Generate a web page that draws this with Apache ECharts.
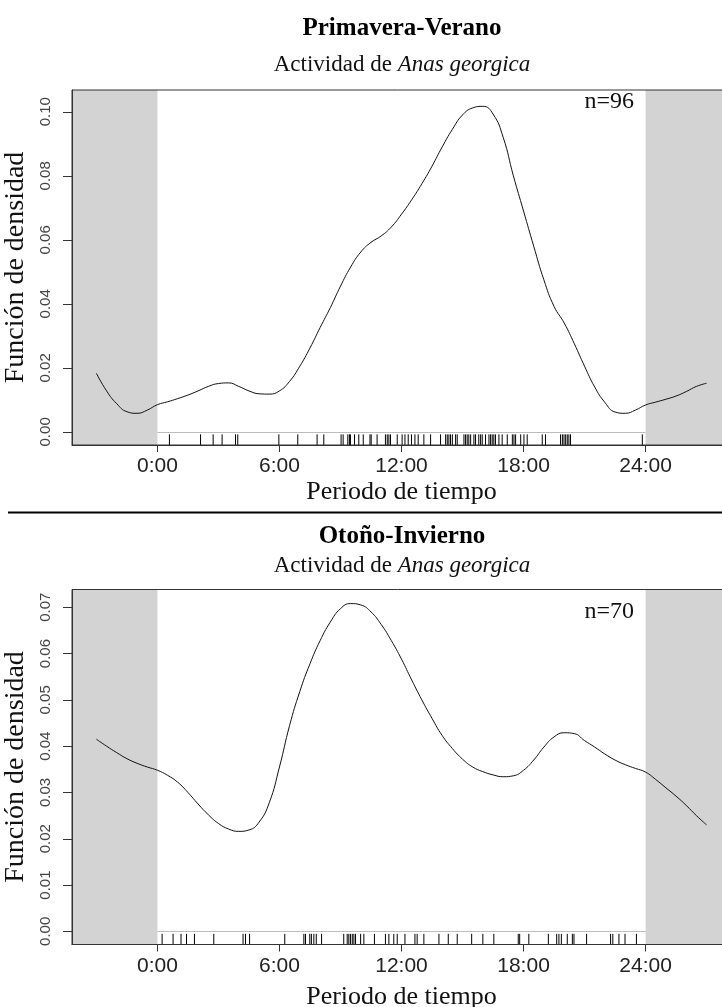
<!DOCTYPE html>
<html>
<head>
<meta charset="utf-8">
<script src="https://cdn.jsdelivr.net/npm/echarts@6/dist/echarts.min.js"></script>
<style>
  html, body { margin: 0; padding: 0; background: #fff; }
  #chart { width: 722px; height: 1007px; }
</style>
</head>
<body>
<div id="chart"></div>
<script>
// horas del eje x (la curva se extiende de -3 a 27 h)
const horas = [-3, -2.5, -2, -1.5, -1, -0.5, 0, 0.5, 1, 1.5, 2, 2.5, 3, 3.5, 4, 4.5, 5, 5.5, 6, 6.5,
  7, 7.5, 8, 8.5, 9, 9.5, 10, 10.5, 11, 11.5, 12, 12.5, 13, 13.5, 14, 14.5, 15, 15.5, 16, 16.5,
  17, 17.5, 18, 18.5, 19, 19.5, 20, 20.5, 21, 21.5, 22, 22.5, 23, 23.5, 24, 24.5, 25, 25.5, 26, 26.5, 27];

// Primavera-Verano
const densPV = [0.0183, 0.0128, 0.0088, 0.0063, 0.0058, 0.0068, 0.0085, 0.0094, 0.0104, 0.0115,
  0.0128, 0.0142, 0.0151, 0.0153, 0.0142, 0.0128, 0.0119, 0.0118, 0.0128, 0.0158,
  0.0205, 0.0262, 0.0326, 0.0388, 0.0455, 0.0515, 0.0562, 0.0592, 0.0612, 0.0640,
  0.0680, 0.0725, 0.0775, 0.0830, 0.0890, 0.0945, 0.0990, 0.1012, 0.1017, 0.0993,
  0.0920, 0.0800, 0.0690, 0.0580, 0.0475, 0.0392, 0.0340, 0.0275, 0.0205, 0.0140,
  0.0092, 0.0062, 0.0058, 0.0068, 0.0084, 0.0093, 0.0102, 0.0112, 0.0126, 0.0142, 0.0152];
const rugPV = [0.59, 2.12, 2.74, 3.18, 3.84, 3.95, 5.97, 6.90, 7.85, 8.18, 9.03, 9.13, 9.36, 9.44,
  9.49, 9.69, 9.90, 10.12, 10.45, 10.51, 10.80, 11.21, 11.30, 11.38, 11.46, 11.79, 12.03, 12.17,
  12.33, 12.49, 12.66, 12.82, 13.10, 13.43, 13.92, 14.17, 14.25, 14.33, 14.41, 14.50, 14.66, 14.74,
  15.07, 15.15, 15.23, 15.31, 15.40, 15.56, 15.64, 15.80, 15.89, 15.97, 16.13, 16.30, 16.38, 16.46,
  16.54, 16.62, 16.79, 16.95, 17.20, 17.45, 17.53, 17.61, 17.86, 18.02, 18.18, 18.92, 19.08, 19.82,
  19.91, 19.99, 20.07, 20.15, 20.23, 20.31, 23.84];
const ticksPV = [0, 0.02, 0.04, 0.06, 0.08, 0.10];

// Otoño-Invierno
const densOI = [0.0415, 0.0400, 0.0386, 0.0373, 0.0363, 0.0355, 0.0348, 0.0337, 0.0322, 0.0300,
  0.0275, 0.0252, 0.0233, 0.0221, 0.0216, 0.0219, 0.0236, 0.0278, 0.0355, 0.0445,
  0.0518, 0.0578, 0.0628, 0.0668, 0.0697, 0.0708, 0.0705, 0.0690, 0.0663, 0.0628,
  0.0588, 0.0543, 0.0500, 0.0460, 0.0423, 0.0395, 0.0372, 0.0355, 0.0345, 0.0338,
  0.0334, 0.0336, 0.0348, 0.0370, 0.0398, 0.0420, 0.0429, 0.0427, 0.0412, 0.0398,
  0.0383, 0.0370, 0.0360, 0.0352, 0.0344, 0.0328, 0.0310, 0.0292, 0.0272, 0.0250, 0.0230];
const rugOI = [0.23, 0.77, 1.16, 1.43, 1.82, 2.77, 4.21, 4.33, 4.53, 6.26, 7.20, 7.28, 7.49, 7.57,
  7.69, 7.81, 8.07, 9.16, 9.33, 9.41, 9.49, 9.58, 9.66, 9.74, 9.99, 10.15, 10.67, 11.21, 11.38,
  11.62, 11.79, 12.17, 12.66, 12.77, 13.10, 13.84, 14.30, 14.74, 15.45, 16.00, 16.54, 17.74, 17.81,
  18.26, 19.22, 19.63, 19.74, 19.86, 20.15, 20.40, 20.48, 21.10, 22.28, 22.39, 22.69, 22.99, 23.55];
const ticksOI = [0, 0.01, 0.02, 0.03, 0.04, 0.05, 0.06, 0.07];

const ticksHoras = [0, 6, 12, 18, 24];
const titulos = ['Primavera-Verano', 'Otoño-Invierno'];
const nLabels = ['n=96', 'n=70'];

const chart = echarts.init(document.getElementById('chart'));

const serif = 'Liberation Serif';
const sans = 'Liberation Sans';

function xAxisDe(i, gap) {
  return {
    type: 'value', gridIndex: i, min: -4.2, max: 28.2, z: 10,
    splitLine: { show: false },
    axisLine: { show: true, onZero: false, lineStyle: { color: '#333', width: 1 } },
    axisTick: { customValues: ticksHoras, length: 7, lineStyle: { color: '#333' } },
    axisLabel: {
      customValues: ticksHoras, formatter: v => v + ':00',
      fontFamily: sans, fontSize: 21, color: '#222', margin: 11
    },
    name: 'Periodo de tiempo', nameLocation: 'middle', nameGap: gap,
    nameTextStyle: { fontFamily: serif, fontSize: 26, color: '#111' }
  };
}

function yAxisDe(i, min, max, ticks) {
  return {
    type: 'value', gridIndex: i, min: min, max: max, z: 10,
    splitLine: { show: false },
    axisLine: { show: true, onZero: false, lineStyle: { color: '#333', width: 1 } },
    axisTick: { customValues: ticks, length: 9, lineStyle: { color: '#333' } },
    axisLabel: {
      customValues: ticks, rotate: 90, margin: 19,
      formatter: v => v.toFixed(2),
      fontFamily: sans, fontSize: 15, color: '#444'
    },
    name: 'Función de densidad', nameLocation: 'middle', nameRotate: 90, nameGap: 34,
    nameTextStyle: { fontFamily: serif, fontSize: 28, color: '#111' }
  };
}

// bandas grises + linea en cero + marcas del rug
function rugSerie(i, rug) {
  return {
    type: 'custom', xAxisIndex: i, yAxisIndex: i, z: 1, silent: true,
    data: rug.map(h => [h, 0]),
    renderItem(params, api) {
      const x = api.coord([api.value(0), 0])[0];
      const cs = params.coordSys;
      const y0 = cs.y + cs.height;
      return {
        type: 'line',
        shape: { x1: x, y1: y0, x2: x, y2: y0 - cs.height * 0.03 },
        style: { stroke: '#000', lineWidth: 1 }
      };
    },
    markArea: {
      silent: true,
      itemStyle: { color: '#d3d3d3', opacity: 1 },
      data: [[{ xAxis: -4.2 }, { xAxis: 0 }], [{ xAxis: 24 }, { xAxis: 28.2 }]]
    },
    markLine: {
      silent: true, symbol: ['none', 'none'], label: { show: false },
      lineStyle: { color: '#bdbdbd', type: 'solid', width: 1 },
      data: [[{ coord: [0, 0] }, { coord: [24, 0] }]]
    }
  };
}

function curvaSerie(i, dens) {
  return {
    type: 'line', xAxisIndex: i, yAxisIndex: i, z: 3,
    data: horas.map((h, k) => [h, dens[k]]),
    smooth: 0.5, showSymbol: false, silent: true,
    lineStyle: { color: '#111', width: 1 }
  };
}

function tituloRich(top) {
  return {
    text: '{n|Actividad de }{i|Anas georgica}',
    left: 397, top: top, textAlign: 'center',
    textStyle: {
      fontWeight: 'normal',
      rich: {
        n: { fontFamily: serif, fontSize: 23, fontWeight: 'normal', color: '#111' },
        i: { fontFamily: serif, fontSize: 23, fontWeight: 'normal', fontStyle: 'italic', color: '#111' }
      }
    }
  };
}

const gridBase = {
  left: 72, width: 659, height: 355, show: true, borderColor: '#333', borderWidth: 1, z: 10,
  containLabel: false, outerBoundsMode: 'none'
};

const option = {
  backgroundColor: '#fff',
  animation: false,
  title: [
    { text: titulos[0], left: 397, top: 11, textAlign: 'center',
      textStyle: { fontFamily: serif, fontWeight: 'bold', fontSize: 25, color: '#000' } },
    tituloRich(48),
    { text: titulos[1], left: 397, top: 519, textAlign: 'center',
      textStyle: { fontFamily: serif, fontWeight: 'bold', fontSize: 25, color: '#000' } },
    tituloRich(549)
  ],
  grid: [
    Object.assign({}, gridBase, { top: 90 }),
    Object.assign({}, gridBase, { top: 589.5 })
  ],
  xAxis: [xAxisDe(0, 34), xAxisDe(1, 40)],
  yAxis: [yAxisDe(0, -0.0041, 0.1068, ticksPV), yAxisDe(1, -0.00284, 0.07384, ticksOI)],
  series: [rugSerie(0, rugPV), curvaSerie(0, densPV), rugSerie(1, rugOI), curvaSerie(1, densOI)],
  graphic: [
    { type: 'text', right: 88, top: 90, z: 20,
      style: { text: nLabels[0], fontFamily: serif, fontSize: 24, fill: '#111' } },
    { type: 'text', right: 88, top: 600, z: 20,
      style: { text: nLabels[1], fontFamily: serif, fontSize: 24, fill: '#111' } },
    { type: 'line', z: 20, shape: { x1: 8, y1: 512.5, x2: 722, y2: 512.5 },
      style: { stroke: '#000', lineWidth: 2 } }
  ]
};

chart.setOption(option);
</script>
</body>
</html>
